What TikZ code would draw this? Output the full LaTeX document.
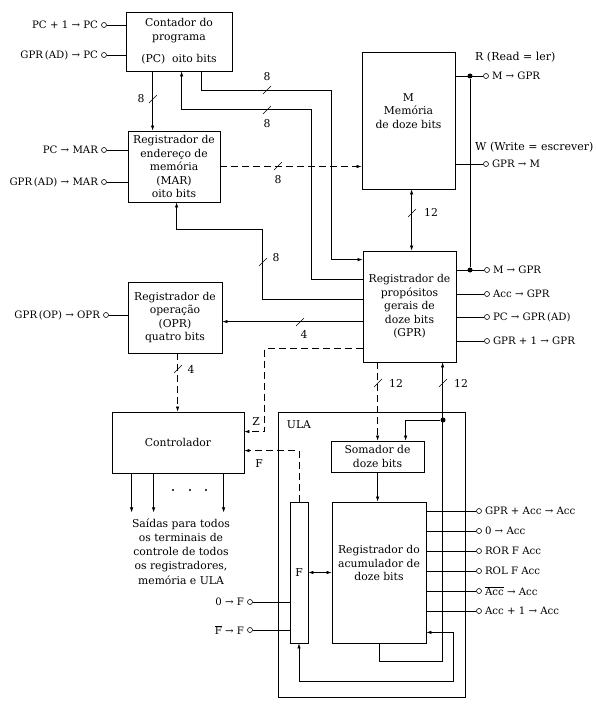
\documentclass[tikz,border=0pt]{standalone}
\usepackage{fontspec}
\setmainfont{DejaVu Serif}
\usetikzlibrary{arrows.meta,calc}
\newcommand{\bxfont}{\fontsize{10.8}{13.5}\selectfont}
\newcommand{\lbfont}{\fontsize{10.2}{11.5}\selectfont}
\newcommand{\hdfont}{\fontsize{11}{12.5}\selectfont}
\newcommand{\busmark}[2]{\draw[wire] (#1,#2) ++(-4,4) -- ++(8,-8);}
\begin{document}
\begin{tikzpicture}[x=1pt,y=-1pt,
  box/.style={draw, line width=0.8pt, inner sep=0pt, align=center, font=\bxfont},
  wire/.style={line width=0.55pt},
  arr/.style={wire, -{Latex[length=5pt,width=3.4pt]}},
  arrb/.style={wire, {Latex[length=5pt,width=3.4pt]}-{Latex[length=5pt,width=3.4pt]}},
  dsh/.style={dash pattern=on 7pt off 4pt},
  term/.style={circle, draw, fill=white, line width=0.6pt, inner sep=0pt, minimum size=5pt},
  jdot/.style={circle, fill, inner sep=0pt, minimum size=5pt},
  sdot/.style={circle, fill, inner sep=0pt, minimum size=2.4pt},
  lbl/.style={font=\lbfont, inner sep=1pt},
  bus/.style={font=\bxfont, inner sep=0pt},
  label distance=2pt
]
\useasboundingbox (0,0) rectangle (595,706);

% ---------- boxes ----------
\node[box, minimum width=106pt, minimum height=59pt] (pc) at (179,41.5)
  {Contador do\\programa\\[9pt](PC)\ \ oito bits};
\node[box, minimum width=92pt, minimum height=71pt] (mar) at (174,166.5)
  {Registrador de\\endereço de\\memória\\(MAR)\\oito bits};
\node[box, minimum width=94pt, minimum height=71pt] (opr) at (175,317.5)
  {Registrador de\\operação\\(OPR)\\quatro bits};
\node[box, minimum width=132pt, minimum height=61pt] (ctrl) at (178,442.5)
  {Controlador};
\node[box, minimum width=93pt, minimum height=137pt] (m) at (408.5,120.5)
  {M\\Memória\\de doze bits\\[6pt]};
\node[box, minimum width=93pt, minimum height=111pt] (gpr) at (409.5,306.5)
  {Registrador de\\propósitos\\gerais de\\doze bits\\(GPR)};
\node[box, minimum width=187pt, minimum height=285pt] (ula) at (371.5,554.5) {};
\node[bus, font=\bxfont] (ulat) at (299,425) {ULA};
\node[box, minimum width=93pt, minimum height=31pt] (som) at (377.5,456.5)
  {Somador de\\doze bits};
\node[box, minimum width=94pt, minimum height=141pt] (acc) at (379,572.5) {};
\node[bus, align=center] (acct) at (379,563) {Registrador do\\acumulador de\\doze bits};
\node[box, minimum width=18pt, minimum height=141pt] (f) at (299,572.5) {F};

% ---------- left terminals ----------
\node[term, label={[lbl]left:{PC + 1 → PC}}] (tpc1) at (104,25) {};
\node[term, label={[lbl]left:{GPR\,(AD) → PC}}] (tpc2) at (104,55) {};
\node[term, label={[lbl]left:{PC → MAR}}] (tmar1) at (104,150) {};
\node[term, label={[lbl]left:{GPR\,(AD) → MAR}}] (tmar2) at (104,182) {};
\node[term, label={[lbl]left:{GPR\,(OP) → OPR}}] (topr) at (106,315) {};
\node[term, label={[lbl]left:{0 → F}}] (tf1) at (250,602) {};
\node[term, label={[lbl]left:{$\overline{\hbox{F}}$ → F}}] (tf2) at (250,630) {};
\foreach \t/\b in {tpc1/pc,tpc2/pc,tmar1/mar,tmar2/mar,topr/opr,tf1/f,tf2/f}
  \draw[wire] (\t) -- (\t -| \b.west);

% ---------- memory terminals ----------
\node[lbl, font=\hdfont, anchor=west] (rh) at (474,57) {R (Read = ler)};
\node[lbl, font=\hdfont, anchor=west] (wh) at (474,147) {W (Write = escrever)};
\node[term, label={[lbl]right:{M → GPR}}] (tr) at (486,76) {};
\node[term, label={[lbl]right:{GPR → M}}] (tw) at (486,164) {};
\draw[wire] (m.east |- tr) -- (tr);
\draw[wire] (m.east |- tw) -- (tw);

% ---------- GPR terminals ----------
\node[term, label={[lbl]right:{M → GPR}}] (tg1) at (487,270) {};
\node[term, label={[lbl]right:{Acc → GPR}}] (tg2) at (487,294) {};
\node[term, label={[lbl]right:{PC → GPR\,(AD)}}] (tg3) at (487,317) {};
\node[term, label={[lbl]right:{GPR + 1 → GPR}}] (tg4) at (487,341) {};
\foreach \t in {tg1,tg2,tg3,tg4}
  \draw[wire] (gpr.east |- \t) -- (\t);
\node[jdot] (dr) at (470,76) {};
\node[jdot] (dg) at (470,270) {};
\draw[wire] (dr) -- (dg);

% ---------- accumulator terminals ----------
\node[term, label={[lbl]right:{GPR + Acc → Acc}}] (ta1) at (479,511) {};
\node[term, label={[lbl]right:{0 → Acc}}] (ta2) at (479,531) {};
\node[term, label={[lbl]right:{ROR F Acc}}] (ta3) at (479,551) {};
\node[term, label={[lbl]right:{ROL F Acc}}] (ta4) at (479,571) {};
\node[term, label={[lbl]right:{$\overline{\hbox{Acc}}$ → Acc}}] (ta5) at (479,591) {};
\node[term, label={[lbl]right:{Acc + 1 → Acc}}] (ta6) at (479,611) {};
\foreach \t in {ta1,ta2,ta3,ta4,ta5,ta6}
  \draw[wire] (acc.east |- \t) -- (\t);

% ---------- buses ----------
% PC -> MAR
\draw[arr] ([xshift=27pt]pc.south west) coordinate (p1) -- (p1 |- mar.north);
\busmark{153}{99} \node[bus] (l1) at (141,99) {8};
% PC -> GPR
\draw[arr] ([xshift=76pt]pc.south west) -- ++(0,19) -- ++(130,0) |- ([yshift=-9pt]gpr.north west);
\busmark{267}{90} \node[bus] (l2) at (267,77) {8};
% GPR -> PC
\draw[arr] ([yshift=-29pt]gpr.north west) -- ++(-51,0) -- ++(0,-170) -- ++(-130,0) -- ([xshift=56pt]pc.south west);
\busmark{267}{110} \node[bus] (l3) at (267,124) {8};
% MAR -> M
\draw[arr,dsh] (mar.east) -- (mar.east -| m.west);
\busmark{278}{166} \node[bus] (l4) at (278,180) {8};
% GPR -> MAR
\draw[arr] ([yshift=-49pt]gpr.north west) -- ++(-100,0) -- ++(0,-70) -- ++(-86,0) -- ([xshift=49pt]mar.south west);
\busmark{263}{262} \node[bus] (l5) at (276,258) {8};
% GPR -> OPR
\draw[arr] ([yshift=-71pt]gpr.north west) coordinate (p6) -- (p6 -| opr.east);
\busmark{300}{322} \node[bus] (l6) at (304,334) {4};
% OPR -> Controlador
\draw[arr,dsh] ([xshift=50pt]opr.south west) coordinate (p7) -- (p7 |- ctrl.north);
\busmark{178}{369} \node[bus] (l7) at (191,369) {4};
% GPR -> Controlador (Z)
\draw[arr,dsh] ([yshift=-98pt]gpr.north west) -- ++(-98,0) |- ([yshift=-20pt]ctrl.north east);
\node[bus] (lz) at (256,422) {Z};
% F -> Controlador
\draw[arr,dsh] (f.north) |- ([yshift=-39pt]ctrl.north east);
\node[bus] (lf) at (259,464) {F};
% M <-> GPR
\draw[arrb] ([xshift=50pt]m.south west) coordinate (p8) -- (p8 |- gpr.north);
\busmark{412}{213} \node[bus] (l8) at (431,212) {12};
% GPR -> Somador
\draw[arr,dsh] ([xshift=15pt]gpr.south west) coordinate (p9) -- (p9 |- som.north);
\busmark{378}{383} \node[bus] (l9) at (396,383) {12};
% Acc -> GPR loop
\draw[arr] ([xshift=48pt]acc.south west) -- ++(0,18) -| ([xshift=80pt]gpr.south west);
\busmark{443}{383} \node[bus] (l10) at (461,383) {12};
\node[jdot] (d3) at (443,420) {};
\draw[arr] (d3) -| ([xshift=75pt]som.north west);
% Somador -> Acc
\draw[arr] ([xshift=47pt]som.south west) coordinate (p11) -- (p11 |- acc.north);
% F <-> Acc
\draw[arrb] (f.east) -- (f.east -| acc.west);
% Acc <-> F loop
\draw[arrb] (f.south) -- ++(0,38) -- ++(154,0) |- ([yshift=11pt]acc.south east);

% ---------- controller outputs ----------
\foreach \dx in {20,42,112}
  \draw[arr] ([xshift=\dx pt]ctrl.south west) -- ++(0,39);
\node[sdot] (o1) at (173,490) {};
\node[sdot] (o2) at (190,490) {};
\node[sdot] (o3) at (206,490) {};
\node[bus, align=center, font=\fontsize{10.8}{14.2}\selectfont] (outs) at (181,551.5)
  {Saídas para todos\\os terminais de\\controle de todos\\os registradores,\\memória e ULA};
\end{tikzpicture}
\end{document}
